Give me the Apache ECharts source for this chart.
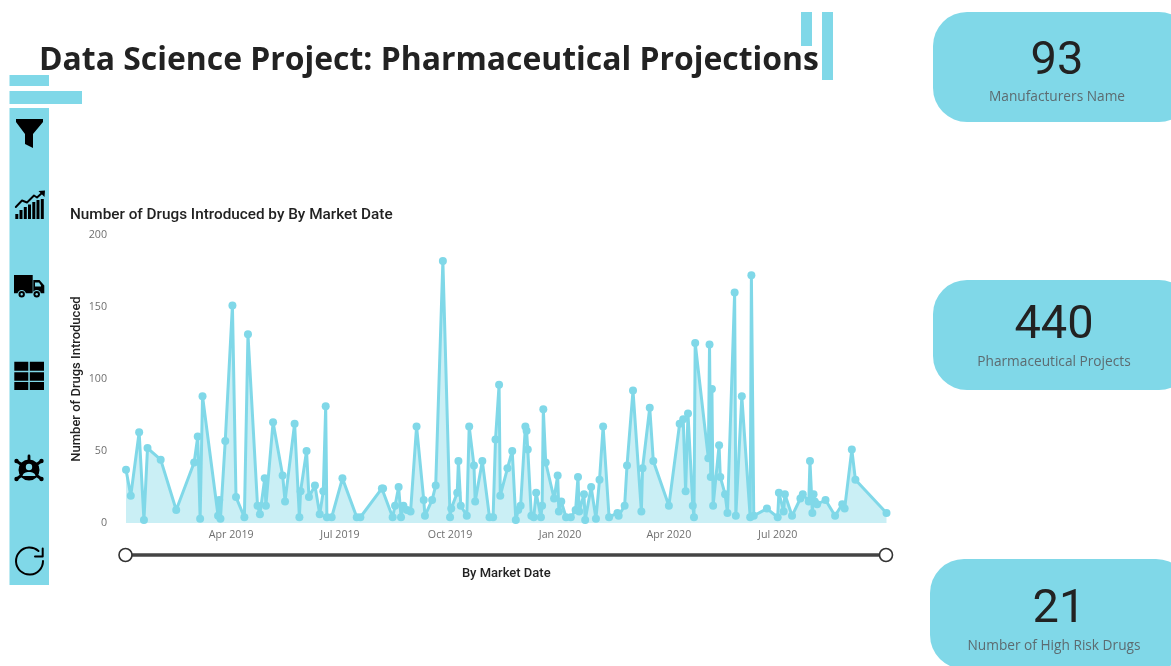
<!DOCTYPE html>
<html>
<head>
<meta charset="utf-8">
<title>Pharmaceutical Projections</title>
<style>
  html, body { margin: 0; padding: 0; background: #fff; }
  #chart { width: 1171px; height: 666px; }
</style>
<script src="https://cdn.jsdelivr.net/npm/echarts@6/dist/echarts.min.js"></script>
</head>
<body>
<div id="chart"></div>
<script>
// Market dates and the number of drugs introduced on each of them
const marketDates = [
  '2019-01-03','2019-01-07','2019-01-14','2019-01-18','2019-01-21','2019-02-01','2019-02-14','2019-03-01',
  '2019-03-04','2019-03-06','2019-03-08','2019-03-21','2019-03-22','2019-03-23','2019-03-27','2019-04-02',
  '2019-04-05','2019-04-12','2019-04-15','2019-04-23','2019-04-25','2019-04-29','2019-04-30','2019-05-06',
  '2019-05-14','2019-05-16','2019-05-24','2019-05-28','2019-05-29','2019-06-03','2019-06-05','2019-06-10',
  '2019-06-14','2019-06-17','2019-06-19','2019-06-20','2019-06-24','2019-07-03','2019-07-15','2019-07-18',
  '2019-08-05','2019-08-06','2019-08-14','2019-08-16','2019-08-19','2019-08-21','2019-08-23','2019-08-26',
  '2019-08-29','2019-09-03','2019-09-09','2019-09-10','2019-09-16','2019-09-19','2019-09-25','2019-10-01',
  '2019-10-02','2019-10-07','2019-10-08','2019-10-10','2019-10-15','2019-10-17','2019-10-21','2019-10-22',
  '2019-10-28','2019-11-03','2019-11-06','2019-11-08','2019-11-11','2019-11-12','2019-11-18','2019-11-22',
  '2019-11-25','2019-11-27','2019-11-29','2019-12-03','2019-12-04','2019-12-05','2019-12-08','2019-12-10',
  '2019-12-12','2019-12-16','2019-12-17','2019-12-18','2019-12-20','2019-12-27','2019-12-30','2019-12-31',
  '2020-01-02','2020-01-06','2020-01-10','2020-01-14','2020-01-16','2020-01-17','2020-01-21','2020-01-22',
  '2020-01-27','2020-01-31','2020-02-03','2020-02-06','2020-02-11','2020-02-18','2020-02-19','2020-02-24',
  '2020-02-26','2020-03-02','2020-03-09','2020-03-10','2020-03-16','2020-03-19','2020-04-01','2020-04-10',
  '2020-04-13','2020-04-15','2020-04-17','2020-04-21','2020-04-22','2020-04-23','2020-05-04','2020-05-05',
  '2020-05-06','2020-05-07','2020-05-08','2020-05-13','2020-05-14','2020-05-18','2020-05-20','2020-05-26',
  '2020-05-27','2020-06-01','2020-06-08','2020-06-09','2020-06-11','2020-06-22','2020-07-01','2020-07-02',
  '2020-07-06','2020-07-07','2020-07-13','2020-07-20','2020-07-22','2020-07-27','2020-07-28','2020-07-30',
  '2020-07-31','2020-08-01','2020-08-03','2020-08-10','2020-08-18','2020-08-24','2020-08-26','2020-09-01',
  '2020-09-04','2020-09-30'
];
const drugsIntroduced = [
  37,19,63,2,52,44,9,42,
  60,3,88,5,16,3,57,151,
  18,4,131,12,6,31,12,70,
  33,15,69,4,22,50,18,26,
  6,22,81,4,4,31,4,4,
  24,24,4,12,25,4,12,9,
  8,67,16,5,16,26,182,4,
  10,21,43,12,5,67,40,15,
  43,4,4,58,96,19,38,50,
  2,9,12,67,64,51,5,4,
  21,4,12,79,42,17,33,8,
  15,4,4,9,32,8,20,2,
  25,3,30,67,4,7,5,12,
  40,92,8,38,80,43,12,69,
  72,22,76,12,4,125,45,124,
  32,93,12,54,32,20,7,160,
  5,88,4,172,5,10,4,21,
  8,20,5,17,20,15,43,7,
  20,15,13,16,5,13,10,51,
  30,7
];
const quarterTicks = ['2019-04-01','2019-07-01','2019-10-01','2020-01-01','2020-04-01','2020-07-01'];
const quarterLabels = ['Apr 2019','Jul 2019','Oct 2019','Jan 2020','Apr 2020','Jul 2020'];
const yTicks = { min: 0, max: 200, step: 50 };

// KPI cards on the right-hand side
const cardValues = ['93', '440', '21'];
const cardLabels = ['Manufacturers Name', 'Pharmaceutical Projects', 'Number of High Risk Drugs'];

const ACCENT = '#80D8E8';
const INK = '#222222';
const HEAD_FONT = '"Open Sans", "Noto Sans", sans-serif';
const DIN_FONT = 'Roboto, "Noto Sans", sans-serif';
const UI_FONT = '"Open Sans", "Noto Sans", sans-serif';

const localTime = s => { const p = s.split('-').map(Number); return new Date(p[0], p[1] - 1, p[2]).getTime(); };
const tickTimes = quarterTicks.map(localTime);

// SVG-path glyphs for the sidebar are registered as graphic shapes on demand
let glyphCount = 0;
const glyphType = (pathData) => {
  const name = 'sidebarGlyph' + (glyphCount++);
  echarts.graphic.registerShape(name, echarts.graphic.extendPath(pathData, {}));
  return name;
};

const box = (x, y, width, height, r) => ({
  type: 'rect', shape: { x, y, width, height, r: r || 0 }, style: { fill: ACCENT }, silent: true
});
const icon = (pathData, fill) => ({ type: glyphType(pathData), style: { fill: fill || '#000' }, silent: true });
const stroked = (pathData, lineWidth) => ({
  type: glyphType(pathData), style: { fill: 'none', stroke: '#000', lineWidth, lineCap: 'round', lineJoin: 'round' }, silent: true
});
const dot = (cx, cy, r, fill) => ({ type: 'circle', shape: { cx, cy, r }, style: { fill }, silent: true });
const label = (text, x, y, font, fontSize, fill, fontWeight, align) => ({
  type: 'text', x, y, silent: true,
  style: { text, font: `${fontWeight || 'normal'} ${fontSize}px ${font}`, fill, align: align || 'center', verticalAlign: 'middle' }
});

// Cards: geometry lives with the drawing code, text comes from the arrays above
const cardGeometry = [
  { x: 933, y: 12, vx: 1057, vy: 62, lx: 1057, ly: 97 },
  { x: 933, y: 280, vx: 1054, vy: 326, lx: 1054, ly: 362 },
  { x: 930, y: 559, vx: 1059, vy: 610, lx: 1054, ly: 646 }
];
const cards = cardGeometry.flatMap((c, i) => [
  box(c.x, c.y, 260, 110, 34),
  label(cardValues[i], c.vx, c.vy, DIN_FONT, 47, INK),
  label(cardLabels[i], c.lx, c.ly, UI_FONT, 13.7, '#5c6b70')
]);

const decorations = [
  box(801, 12, 11, 34), box(822, 12, 11, 68),
  box(9.5, 75, 39.5, 11), box(9.5, 91, 72.5, 13), box(9.5, 108, 39.5, 477)
];

const sidebarIcons = [
  // funnel
  icon('M16 119H43V122L33 134V148L25 144V134L16 122Z'),
  // rising bars with arrow
  icon('M15.3 214h3v5h-3zM19.5 210h3v9h-3zM23.8 207h3v12h-3zM28 204.5h3v14.5h-3zM32.3 202h3v17h-3zM36.5 200h3v19h-3zM40.8 199h3v20h-3z'),
  stroked('M15.8 207L22 200.5L27 202.5L34 195.5L37 197.5L42.5 192.5', 1.9),
  icon('M38.5 191L45 190.5L44.5 197Z'),
  // truck
  icon('M14 275H32.7V293.3H14ZM33.3 280H39.5L44.3 285.5V293.3H33.3Z'),
  icon('M35 282.5H39L41 285.5V286.5H35Z', ACCENT),
  dot(21.7, 294.3, 4.2, ACCENT), dot(21.7, 294.3, 3.2, '#000'), dot(21.7, 294.3, 1.2, ACCENT),
  dot(36.7, 294.3, 4.2, ACCENT), dot(36.7, 294.3, 3.2, '#000'), dot(36.7, 294.3, 1.2, ACCENT),
  // table grid
  icon('M14.3 361.7h14v9h-14zM29.8 361.7h14.2v9H29.8zM14.3 372.2h14v8.5h-14zM29.8 372.2h14.2v8.5H29.8zM14.3 382h14v8h-14zM29.8 382h14.2v8H29.8z'),
  // hazard badge
  stroked('M16.5 461L41.5 479M41.5 461L16.5 479M29 456V461', 2.8),
  dot(16.5, 461, 2.2, '#000'), dot(41.5, 461, 2.2, '#000'), dot(16.5, 479, 2.2, '#000'), dot(41.5, 479, 2.2, '#000'),
  dot(29, 470, 10.5, '#000'),
  dot(29, 467, 3.2, ACCENT),
  icon('M22.5 476C23 470.5 35 470.5 35.5 476Z', ACCENT),
  // refresh
  stroked('M38.5 551A13.5 13.5 0 1 0 43 561', 2),
  stroked('M42.7 548.5V556.5H35', 2)
];

const slider = [
  { type: 'line', shape: { x1: 125.5, y1: 555, x2: 886, y2: 555 }, style: { stroke: '#444', lineWidth: 3.5 }, silent: true },
  { type: 'circle', shape: { cx: 125.5, cy: 555, r: 6.5 }, style: { fill: '#fff', stroke: '#333', lineWidth: 1.6 }, silent: true },
  { type: 'circle', shape: { cx: 886, cy: 555, r: 6.5 }, style: { fill: '#fff', stroke: '#333', lineWidth: 1.6 }, silent: true }
];

const chart = echarts.init(document.getElementById('chart'), null, { renderer: 'canvas' });
chart.setOption({
  animation: false,
  backgroundColor: '#ffffff',
  title: {
    text: 'Number of Drugs Introduced by By Market Date',
    left: 65, top: 203,
    textStyle: { fontFamily: DIN_FONT, fontSize: 15.3, fontWeight: 500, color: INK }
  },
  grid: { left: 126, right: 1171 - 886.5, top: 235, bottom: 666 - 523, containLabel: false },
  xAxis: {
    // timestamps on a linear axis so the quarter labels can be placed explicitly
    type: 'value',
    min: localTime(marketDates[0]),
    max: localTime(marketDates[marketDates.length - 1]),
    name: 'By Market Date',
    nameLocation: 'middle',
    nameGap: 44,
    nameTextStyle: { fontFamily: DIN_FONT, fontSize: 13, fontWeight: 500, color: INK },
    axisLine: { show: false },
    axisTick: { show: false },
    splitLine: { show: false },
    axisLabel: {
      customValues: tickTimes,
      formatter: v => quarterLabels[tickTimes.indexOf(v)] || '',
      color: '#6f6f6f', fontFamily: UI_FONT, fontSize: 10.7, margin: 6, hideOverlap: false
    }
  },
  yAxis: {
    type: 'value',
    min: yTicks.min, max: yTicks.max, interval: yTicks.step,
    name: 'Number of Drugs Introduced',
    nameLocation: 'middle',
    nameGap: 43,
    nameMoveOverlap: false,
    nameTextStyle: { fontFamily: DIN_FONT, fontSize: 13, fontWeight: 500, color: INK },
    axisLine: { show: false },
    axisTick: { show: false },
    splitLine: { show: false },
    axisLabel: { color: '#6f6f6f', fontFamily: UI_FONT, fontSize: 10.7, margin: 19 }
  },
  series: [{
    type: 'line',
    data: marketDates.map((d, i) => [localTime(d), drugsIntroduced[i]]),
    showSymbol: true,
    showAllSymbol: true,
    symbol: 'circle',
    symbolSize: 8,
    smooth: false,
    lineStyle: { color: ACCENT, width: 3, join: 'round' },
    itemStyle: { color: ACCENT },
    areaStyle: { color: ACCENT, opacity: 0.42 },
    clip: false
  }],
  graphic: { elements: [
    label('Data Science Project: Pharmaceutical Projections', 39, 61, HEAD_FONT, 31.9, INK, 'bold', 'left'),
    ...decorations, ...sidebarIcons, ...slider, ...cards
  ] }
});
</script>
</body>
</html>
